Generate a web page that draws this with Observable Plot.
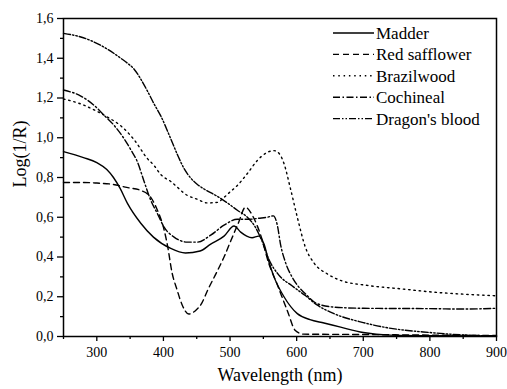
<!DOCTYPE html>
<html>
<head>
<meta charset="utf-8">
<script src="https://cdn.jsdelivr.net/npm/d3@7"></script>
<script src="https://cdn.jsdelivr.net/npm/@observablehq/plot@0.6"></script>
<style>
  body { margin: 0; background: #fff; }
  #chart svg, #chart svg text {
    font-family: "Liberation Serif", "Times New Roman", Times, Tinos, "Nimbus Roman", "Nimbus Roman No9 L", "Noto Serif", "DejaVu Serif", FreeSerif, serif !important;
  }
</style>
</head>
<body>
<div id="chart"></div>
<script>
// Reflectance spectra of red dyes, expressed as Log(1/R) against wavelength (nm)

const madderNm  = [250, 280, 300, 315, 325, 335, 346, 366, 385, 411, 433, 455, 471, 491, 506, 516, 525, 533, 543, 551, 558, 566, 581, 601, 620, 641, 666, 700, 740, 800, 900];
const madderLog = [0.93, 0.90, 0.875, 0.84, 0.80, 0.745, 0.67, 0.57, 0.50, 0.443, 0.42, 0.43, 0.465, 0.505, 0.556, 0.525, 0.505, 0.497, 0.505, 0.465, 0.38, 0.30, 0.20, 0.115, 0.085, 0.068, 0.047, 0.02, 0.007, 0.004, 0.003];

const safflowerNm  = [250, 280, 300, 325, 345, 366, 381, 391, 400, 406, 413, 420, 428, 438, 448, 458, 466, 481, 491, 501, 513, 523, 535, 546, 558, 571, 586, 598, 610, 700, 800, 900];
const safflowerLog = [0.775, 0.775, 0.772, 0.765, 0.75, 0.735, 0.70, 0.635, 0.55, 0.46, 0.32, 0.24, 0.16, 0.113, 0.13, 0.17, 0.23, 0.33, 0.40, 0.48, 0.575, 0.65, 0.60, 0.51, 0.37, 0.26, 0.13, 0.03, 0.012, 0.01, 0.007, 0.005];

const brazilNm  = [250, 276, 296, 316, 336, 356, 376, 386, 396, 411, 436, 451, 466, 481, 491, 501, 511, 526, 541, 555, 566, 575, 581, 591, 601, 613, 626, 646, 666, 706, 756, 806, 850, 900];
const brazilLog = [1.195, 1.17, 1.14, 1.104, 1.06, 0.99, 0.895, 0.86, 0.815, 0.78, 0.71, 0.69, 0.672, 0.675, 0.70, 0.73, 0.76, 0.82, 0.886, 0.925, 0.935, 0.915, 0.87, 0.74, 0.60, 0.45, 0.37, 0.315, 0.282, 0.257, 0.24, 0.223, 0.213, 0.205];

const cochinealNm  = [250, 276, 296, 311, 326, 341, 351, 361, 371, 381, 391, 401, 416, 436, 451, 471, 491, 511, 530, 543, 556, 565, 571, 576, 583, 593, 603, 613, 631, 656, 700, 800, 850, 900];
const cochinealLog = [1.24, 1.21, 1.163, 1.113, 1.062, 0.995, 0.94, 0.878, 0.78, 0.685, 0.618, 0.55, 0.50, 0.475, 0.475, 0.51, 0.56, 0.59, 0.59, 0.595, 0.60, 0.607, 0.56, 0.46, 0.375, 0.30, 0.25, 0.215, 0.165, 0.148, 0.142, 0.14, 0.138, 0.142];

const dragonNm  = [250, 276, 306, 336, 346, 356, 366, 376, 386, 396, 411, 421, 431, 441, 451, 461, 481, 496, 511, 526, 538, 548, 558, 573, 593, 613, 630, 656, 700, 731, 800, 850, 900];
const dragonLog = [1.525, 1.507, 1.465, 1.40, 1.375, 1.345, 1.295, 1.235, 1.17, 1.11, 0.995, 0.915, 0.845, 0.797, 0.765, 0.742, 0.705, 0.672, 0.635, 0.60, 0.55, 0.48, 0.39, 0.31, 0.255, 0.206, 0.16, 0.115, 0.07, 0.047, 0.02, 0.008, 0.003];

const seriesNames = ["Madder", "Red safflower", "Brazilwood", "Cochineal", "Dragon's blood"];
const xMajor = [300, 400, 500, 600, 700, 800, 900];
const xMinor = [250, 350, 450, 550, 650, 750, 850];
const yMajor = [0, 0.2, 0.4, 0.6, 0.8, 1.0, 1.2, 1.4, 1.6];
const yMinor = [0.1, 0.3, 0.5, 0.7, 0.9, 1.1, 1.3, 1.5];

const serif = "'Liberation Serif', 'Times New Roman', Times, Tinos, 'Nimbus Roman', 'Noto Serif', 'DejaVu Serif', FreeSerif, serif";
const dashes = [null, "6,4", "1.5,3.8", "7,2.5,1.5,2.5", "7,2,1.5,2,1.5,2"];
const series = [
  [madderNm, madderLog],
  [safflowerNm, safflowerLog],
  [brazilNm, brazilLog],
  [cochinealNm, cochinealLog],
  [dragonNm, dragonLog]
].map(([nm, v], k) => ({
  name: seriesNames[k],
  dash: dashes[k],
  rows: nm.map((w, i) => ({wl: w, v: v[i]}))
}));

const fmt = d => d.toFixed(1).replace(".", ",");

const plot = Plot.plot({
  width: 507,
  height: 389,
  marginLeft: 63,
  marginRight: 11,
  marginTop: 18,
  marginBottom: 53,
  style: {fontFamily: serif, fontSize: "14px", background: "#fff", color: "#000", overflow: "visible"},
  x: {domain: [250, 900]},
  y: {domain: [0, 1.6]},
  marks: [
    Plot.axisX({ticks: xMajor, tickSize: 5, tickPadding: 6, tickFormat: d => String(d), label: null, strokeWidth: 1.3}),
    Plot.axisX({ticks: xMinor, tickSize: 3, tickFormat: () => "", label: null, strokeWidth: 1.3}),
    Plot.axisY({ticks: yMajor, tickSize: 6, tickPadding: 4, tickFormat: fmt, label: null, strokeWidth: 1.3}),
    Plot.axisY({ticks: yMinor, tickSize: 3, tickFormat: () => "", label: null, strokeWidth: 1.3}),
    ...series.map(s => Plot.line(s.rows, {
      x: "wl", y: "v", stroke: "#000", strokeWidth: 1.4,
      strokeDasharray: s.dash ?? undefined, curve: "monotone-x"
    })),
    Plot.frame({stroke: "#000", strokeWidth: 1.5}),
    Plot.text(["Wavelength (nm)"], {frameAnchor: "bottom", dy: 44, fontSize: 18}),
    Plot.text(["Log(1/R)"], {frameAnchor: "left", dx: -43, dy: 10, rotate: -90, fontSize: 18})
  ]
});

// Legend in the upper right corner of the frame
const svg = d3.select(plot);
const legend = svg.append("g").attr("transform", "translate(333,33)");
series.forEach((s, i) => {
  const g = legend.append("g").attr("transform", `translate(0,${i * 21.4})`);
  g.append("line")
    .attr("x1", 0).attr("x2", 41).attr("y1", 0).attr("y2", 0)
    .attr("stroke", "#000").attr("stroke-width", 1.4)
    .attr("stroke-dasharray", s.dash);
  g.append("text")
    .attr("x", 43).attr("y", 0).attr("dy", "0.35em")
    .attr("text-anchor", "start")
    .attr("font-size", 17).attr("fill", "#000")
    .text(s.name);
});
svg.selectAll("text").attr("font-family", serif).style("font-family", serif);

document.getElementById("chart").append(plot);
</script>
</body>
</html>
